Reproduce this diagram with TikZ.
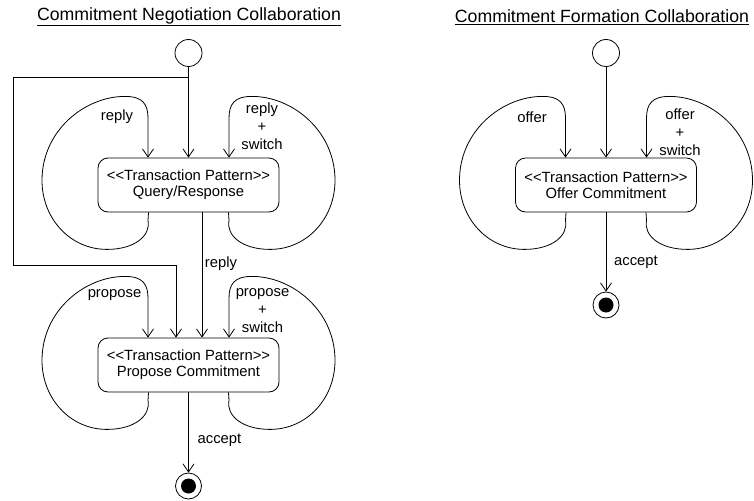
\documentclass[tikz,border=0pt]{standalone}
\usepackage{fontspec}
\setmainfont{Liberation Sans}
\usetikzlibrary{arrows.meta,calc}
\tikzset{
  arr/.style={line width=0.8pt,-{Straight Barb[length=8pt,width=11pt,line width=0.8pt]}},
  ln/.style={line width=0.8pt},
  tp/.style={draw,line width=0.8pt,rounded corners=10pt,minimum width=181pt,minimum height=54pt,align=center,
    font=\fontsize{14.8}{16}\selectfont,inner sep=0pt},
  lbl/.style={font=\fontsize{14.8}{18}\selectfont,align=center,inner sep=0pt},
  ttl/.style={font=\fontsize{17.7}{20}\selectfont,inner sep=0pt},
  initst/.style={circle,draw,line width=0.8pt,minimum size=27pt,inner sep=0pt},
  finst/.style={circle,draw,line width=0.8pt,minimum size=26pt,inner sep=0pt},
}
\newcommand\myStereo{<\kern0pt<Transaction Pattern>\kern0pt>}
\newcommand\myLloop[1]{%
 \draw[arr] ($(#1.south)+(-40,0)$) -- ($(#1.south)+(-40.5,8)$)
  .. controls ($(#1.south)+(-37.5,23)$) and ($(#1.south)+(-53.5,37)$) .. ($(#1.south)+(-81.5,37)$)
  .. controls ($(#1.south)+(-118.5,37)$) and ($(#1.south)+(-146.5,6)$) .. ($(#1.south)+(-146.5,-32)$)
  .. controls ($(#1.south)+(-146.5,-82)$) and ($(#1.south)+(-103.5,-116)$) .. ($(#1.south)+(-63.5,-116)$)
  .. controls ($(#1.south)+(-45.5,-116)$) and ($(#1.south)+(-40.5,-108)$) .. ($(#1.south)+(-40.5,-94)$)
  -- ($(#1.north)+(-40.5,0)$);}
\newcommand\myRloop[1]{%
 \draw[arr] ($(#1.south)+(40,0)$) -- ($(#1.south)+(40.5,8)$)
  .. controls ($(#1.south)+(37.5,23)$) and ($(#1.south)+(53.5,37)$) .. ($(#1.south)+(81.5,37)$)
  .. controls ($(#1.south)+(118.5,37)$) and ($(#1.south)+(146.5,6)$) .. ($(#1.south)+(146.5,-32)$)
  .. controls ($(#1.south)+(146.5,-82)$) and ($(#1.south)+(103.5,-116)$) .. ($(#1.south)+(63.5,-116)$)
  .. controls ($(#1.south)+(45.5,-116)$) and ($(#1.south)+(40.5,-108)$) .. ($(#1.south)+(40.5,-94)$)
  -- ($(#1.north)+(40.5,0)$);}
\begin{document}
\begin{tikzpicture}[x=1pt,y=-1pt]
\useasboundingbox[fill=white] (0,0) rectangle (754,500);
% titles
\node[ttl] (t1) at (189,17) {\underline{Commitment Negotiation Collaboration}};
\node[ttl] (t2) at (602,17) {\underline{Commitment Formation Collaboration}};
% left diagram
\node[initst] (i1) at (188.5,53) {};
\node[tp] (b1) at (188.5,185) {\myStereo\\Query/Response};
\node[tp] (b2) at (188.5,365) {\myStereo\\Propose Commitment};
\node[finst] (f1) at (188.5,486) {};
\fill (f1) circle (7.5);
\draw[arr] (i1) -- (b1);
\coordinate (j1) at (188.5,77);
\coordinate (k1) at (13,265);
\draw[arr] (j1) -| (k1) -| ($(b2.north)+(-12.5,0)$);
\draw[arr] ($(b1.south)+(13.5,0)$) -- ($(b2.north)+(13.5,0)$);
\draw[arr] (b2) -- (f1);
\myLloop{b1}
\myRloop{b1}
\myLloop{b2}
\myRloop{b2}
\node[lbl] (l1) at (117,117) {reply};
\node[lbl] (l2) at (262,126) {reply\\+\\switch};
\node[lbl] (l3) at (221,264) {reply};
\node[lbl] (l4) at (114.5,295) {propose};
\node[lbl] (l5) at (262.5,311) {propose\\+\\switch};
\node[lbl] (l6) at (219.5,440) {accept};
% right diagram
\node[initst] (i2) at (606,53) {};
\node[tp] (b3) at (606,185) {\myStereo\\Offer Commitment};
\node[finst] (f2) at (606,305) {};
\fill (f2) circle (7.5);
\draw[arr] (i2) -- (b3);
\draw[arr] (b3) -- (f2);
\myLloop{b3}
\myRloop{b3}
\node[lbl] (l7) at (532,117) {offer};
\node[lbl] (l8) at (680,132) {offer\\+\\switch};
\node[lbl] (l9) at (636,262) {accept};
\end{tikzpicture}
\end{document}
